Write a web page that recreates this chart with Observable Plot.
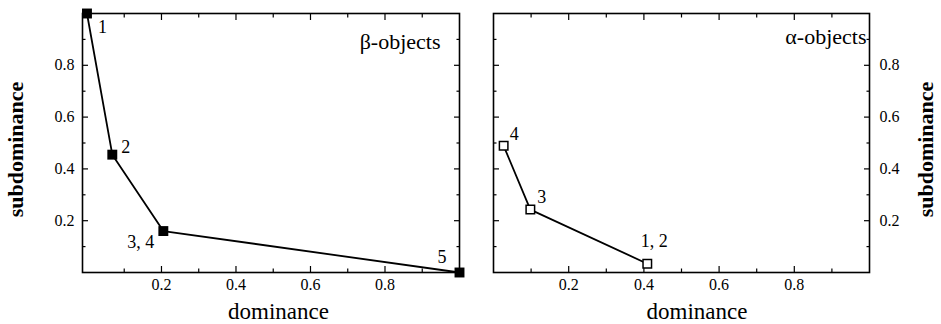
<!DOCTYPE html>
<html>
<head>
<meta charset="utf-8">
<script src="https://cdn.jsdelivr.net/npm/d3@7"></script>
<script src="https://cdn.jsdelivr.net/npm/@observablehq/plot@0.6"></script>
<style>
  body { margin: 0; background: white; }
  #wrap { display: flex; width: 941px; height: 324px; }
  svg text { font-family: "Liberation Serif", "Times New Roman", serif; }
</style>
</head>
<body>
<div id="wrap"></div>
<script>
// ---- data ----
const betaDominance = [0.0, 0.068, 0.205, 1.0];
const betaSubdominance = [1.0, 0.455, 0.16, 0.0];
const betaLabels = ["1", "2", "3, 4", "5"];

const alphaDominance = [0.027, 0.098, 0.409];
const alphaSubdominance = [0.489, 0.243, 0.034];
const alphaLabels = ["4", "3", "1, 2"];

const majorTicks = [0.2, 0.4, 0.6, 0.8];
const majorTickLabels = ["0.2", "0.4", "0.6", "0.8"];
const minorTicks = [0.1, 0.3, 0.5, 0.7, 0.9];

const xTitle = "dominance";
const yTitle = "subdominance";
const betaTitle = "β-objects";
const alphaTitle = "α-objects";

const betaData = betaDominance.map((x, i) => ({x, y: betaSubdominance[i], label: betaLabels[i]}));
const alphaData = alphaDominance.map((x, i) => ({x, y: alphaSubdominance[i], label: alphaLabels[i]}));

const fmt = d => majorTickLabels[majorTicks.indexOf(d)] ?? "";
const FONT = "Liberation Serif, Times New Roman, serif";

function tickAxes() {
  const m = [];
  for (const [ticks, size] of [[majorTicks, -6], [minorTicks, -3.5]]) {
    for (const a of ["bottom", "top"]) m.push(Plot.axisX(ticks, {anchor: a, tickSize: size, fill: "none", label: null, tickFormat: () => "", strokeWidth: 1.2}));
    for (const a of ["left", "right"]) m.push(Plot.axisY(ticks, {anchor: a, tickSize: size, fill: "none", label: null, tickFormat: () => "", strokeWidth: 1.2}));
  }
  return m;
}

function pointLabels(data, placement) {
  return placement.map((p, k) => Plot.text(data, {
    filter: (d, i) => i === k, x: "x", y: "y", text: "label",
    dx: p.dx, dy: p.dy, textAnchor: p.anchor, lineAnchor: "bottom", fontSize: 18, fontFamily: FONT
  }));
}

const tickText = {fontSize: 16, fontFamily: FONT, fill: "black", label: null, tickFormat: fmt, tickSize: 0};

// left panel: beta objects
const left = Plot.plot({
  width: 470, height: 324,
  marginLeft: 82, marginRight: 11, marginTop: 13, marginBottom: 52,
  style: {fontFamily: FONT, fontSize: "15px", background: "white", color: "black"},
  x: {domain: [-0.012, 1]},
  y: {domain: [0, 1]},
  marks: [
    ...tickAxes(),
    Plot.axisX(majorTicks, {...tickText, anchor: "bottom", tickPadding: 6}),
    Plot.axisY(majorTicks, {...tickText, anchor: "left", tickPadding: 8}),
    Plot.frame({stroke: "black", strokeWidth: 1.6}),
    Plot.line(betaData, {x: "x", y: "y", stroke: "black", strokeWidth: 1.8}),
    Plot.dot(betaData, {x: "x", y: "y", symbol: "square", r: 5.6, fill: "black", stroke: "none"}),
    ...pointLabels(betaData, [
      {dx: 11, dy: 19, anchor: "start"},
      {dx: 9, dy: -2, anchor: "start"},
      {dx: -9, dy: 17, anchor: "end"},
      {dx: -13, dy: -10, anchor: "end"}
    ]),
    Plot.text([betaTitle], {text: d => d, frameAnchor: "top-right", textAnchor: "end", lineAnchor: "bottom", dx: -19, dy: 35, fontSize: 22, fontFamily: FONT}),
    Plot.text([xTitle], {text: d => d, frameAnchor: "bottom", textAnchor: "middle", lineAnchor: "bottom", dx: 7.5, dy: 46, fontSize: 23, fontFamily: FONT}),
    Plot.text([yTitle], {text: d => d, frameAnchor: "left", textAnchor: "middle", lineAnchor: "middle", rotate: -90, dx: -67, dy: 6.5, fontSize: 22, fontWeight: "bold", fontFamily: FONT})
  ]
});

// right panel: alpha objects
const right = Plot.plot({
  width: 471, height: 324,
  marginLeft: 23, marginRight: 72, marginTop: 13, marginBottom: 52,
  style: {fontFamily: FONT, fontSize: "15px", background: "white", color: "black"},
  x: {domain: [0, 1]},
  y: {domain: [0, 1]},
  marks: [
    ...tickAxes(),
    Plot.axisX(majorTicks, {...tickText, anchor: "bottom", tickPadding: 6}),
    Plot.axisY(majorTicks, {...tickText, anchor: "right", tickPadding: 10}),
    Plot.frame({stroke: "black", strokeWidth: 1.6}),
    Plot.line(alphaData, {x: "x", y: "y", stroke: "black", strokeWidth: 1.8}),
    Plot.dot(alphaData, {x: "x", y: "y", symbol: "square", r: 4.8, fill: "white", stroke: "black", strokeWidth: 1.5}),
    ...pointLabels(alphaData, [
      {dx: 6, dy: -6, anchor: "start"},
      {dx: 7, dy: -7, anchor: "start"},
      {dx: 7, dy: -17, anchor: "middle"}
    ]),
    Plot.text([alphaTitle], {text: d => d, frameAnchor: "top-right", textAnchor: "end", lineAnchor: "bottom", dx: -3, dy: 30, fontSize: 22, fontFamily: FONT}),
    Plot.text([xTitle], {text: d => d, frameAnchor: "bottom", textAnchor: "middle", lineAnchor: "bottom", dx: 15.5, dy: 46, fontSize: 23, fontFamily: FONT}),
    Plot.text([yTitle], {text: d => d, frameAnchor: "right", textAnchor: "middle", lineAnchor: "middle", rotate: -90, dx: 56, dy: 6.5, fontSize: 22, fontWeight: "bold", fontFamily: FONT})
  ]
});

document.getElementById("wrap").append(left, right);
</script>
</body>
</html>
